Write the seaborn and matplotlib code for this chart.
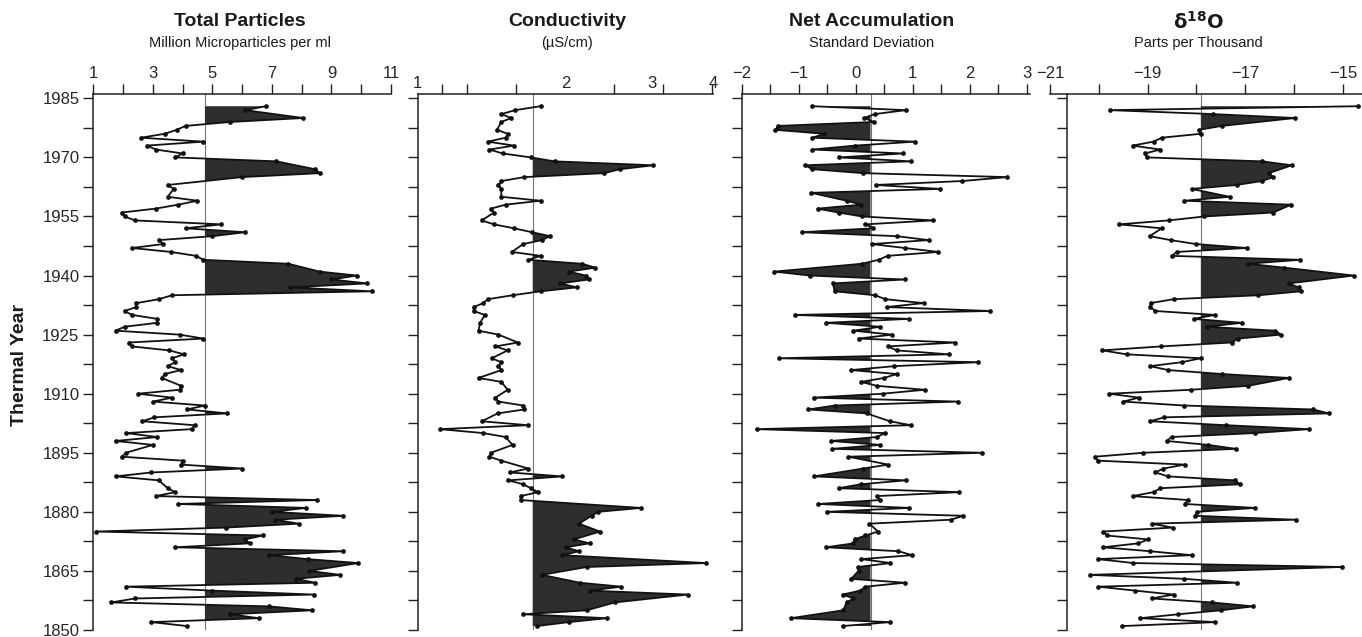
import numpy as np
import pandas as pd
import matplotlib
matplotlib.use("Agg")
import matplotlib.pyplot as plt
import seaborn as sns
from matplotlib.ticker import FixedLocator, FixedFormatter, NullFormatter

sns.set_theme(style="white")
plt.rcParams["font.family"] = ["Liberation Sans", "DejaVu Sans"]

# ---------------- data ----------------
particles_years = [1983, 1982, 1980, 1979, 1978, 1977, 1976, 1975, 1974, 1973, 1972, 1971, 1970,
                   1969, 1967, 1966, 1965, 1963, 1962, 1960, 1959, 1958, 1957, 1956, 1955, 1954,
                   1953, 1952, 1951, 1950, 1949, 1948, 1947, 1946, 1945, 1944, 1943, 1941, 1940,
                   1939, 1938, 1937, 1936, 1935, 1934, 1933, 1932, 1931, 1930, 1929, 1928, 1927,
                   1926, 1925, 1924, 1923, 1922, 1921, 1920, 1919, 1918, 1917, 1916, 1915, 1914,
                   1912, 1911, 1910, 1909, 1908, 1907, 1906, 1905, 1904, 1903, 1902, 1901, 1900,
                   1899, 1898, 1897, 1895, 1894, 1893, 1892, 1891, 1890, 1889, 1888, 1886, 1885,
                   1884, 1883, 1882, 1881, 1880, 1879, 1878, 1877, 1876, 1875, 1874, 1873, 1872,
                   1871, 1870, 1869, 1868, 1867, 1865, 1864, 1863, 1862, 1861, 1860, 1859, 1858,
                   1857, 1856, 1855, 1854, 1853, 1852, 1851]
particles_values = [6.8, 6.1, 8.05, 5.6, 4.1, 3.8, 3.4, 2.6, 4.7, 2.8, 3.1, 4.0, 3.75,
                    7.15, 8.45, 8.6, 6.0, 3.5, 3.7, 3.5, 4.5, 3.85, 3.1, 1.95, 2.05, 2.4,
                    5.3, 4.1, 6.1, 5.0, 3.2, 3.35, 2.3, 3.6, 4.45, 4.7, 7.55, 8.6, 9.85,
                    9.0, 10.2, 7.6, 10.35, 3.65, 3.2, 2.45, 2.45, 2.05, 2.3, 3.15, 3.15, 2.05,
                    1.75, 3.9, 4.7, 2.2, 2.3, 3.55, 4.05, 3.65, 3.75, 3.5, 3.95, 3.4, 3.3,
                    3.95, 3.9, 2.5, 3.65, 3.0, 4.75, 4.15, 5.5, 3.05, 2.65, 4.4, 4.3, 2.1,
                    3.15, 1.75, 3.0, 2.1, 1.95, 4.0, 3.95, 6.0, 2.95, 1.75, 3.2, 3.5, 3.75,
                    3.1, 8.5, 3.85, 8.15, 7.0, 9.4, 7.1, 7.9, 5.45, 1.1, 6.7, 6.1, 6.25,
                    3.75, 9.4, 6.9, 8.2, 9.9, 8.25, 9.3, 7.8, 8.45, 2.1, 5.0, 8.4, 2.4,
                    1.6, 6.9, 8.35, 5.6, 6.55, 2.95, 4.15]
particles_base = 4.75

conduct_years = [1983, 1982, 1981, 1980, 1979, 1977, 1976, 1975, 1974, 1973, 1972, 1971, 1970,
                 1969, 1968, 1967, 1966, 1965, 1964, 1963, 1962, 1960, 1959, 1958, 1957, 1956,
                 1954, 1953, 1952, 1951, 1950, 1949, 1948, 1946, 1945, 1944, 1943, 1942, 1941,
                 1940, 1939, 1938, 1937, 1936, 1935, 1934, 1933, 1932, 1931, 1930, 1928, 1926,
                 1925, 1923, 1922, 1921, 1919, 1918, 1917, 1916, 1914, 1913, 1911, 1909, 1908,
                 1907, 1906, 1905, 1903, 1902, 1901, 1900, 1899, 1897, 1895, 1894, 1893, 1891,
                 1890, 1889, 1888, 1887, 1886, 1885, 1884, 1883, 1881, 1880, 1879, 1877, 1875,
                 1873, 1872, 1871, 1870, 1869, 1867, 1866, 1864, 1862, 1861, 1860, 1859, 1857,
                 1855, 1854, 1853, 1852, 1851]
conduct_values = [1.78, 1.58, 1.48, 1.55, 1.48, 1.45, 1.525, 1.51, 1.39, 1.57, 1.40, 1.49, 1.70,
                  1.90, 3.02, 2.58, 2.40, 1.65, 1.48, 1.46, 1.48, 1.48, 1.78, 1.51, 1.41, 1.43,
                  1.35, 1.43, 1.57, 1.71, 1.86, 1.79, 1.64, 1.555, 1.78, 1.68, 2.16, 2.30, 2.03,
                  2.20, 2.23, 1.95, 2.11, 1.78, 1.56, 1.39, 1.36, 1.30, 1.30, 1.37, 1.34, 1.33,
                  1.46, 1.60, 1.44, 1.525, 1.415, 1.48, 1.46, 1.48, 1.33, 1.48, 1.525, 1.44, 1.46,
                  1.64, 1.65, 1.455, 1.35, 1.68, 1.11, 1.36, 1.51, 1.56, 1.41, 1.40, 1.48, 1.68,
                  1.54, 1.97, 1.53, 1.64, 1.70, 1.76, 1.62, 1.62, 2.85, 2.33, 2.26, 2.13, 2.35,
                  2.08, 2.24, 2.00, 2.13, 1.97, 3.87, 2.21, 1.79, 2.14, 2.60, 2.24, 3.55, 2.52,
                  2.21, 1.64, 2.43, 2.03, 1.75]
conduct_base = 1.715

accum_years = [1983, 1982, 1981, 1980, 1979, 1978, 1977, 1976, 1975, 1974, 1973, 1972, 1971,
               1970, 1969, 1968, 1967, 1966, 1965, 1964, 1963, 1962, 1961, 1959, 1958, 1957,
               1956, 1955, 1954, 1953, 1952, 1951, 1950, 1949, 1948, 1947, 1946, 1945, 1944,
               1943, 1941, 1940, 1939, 1938, 1936, 1935, 1934, 1933, 1932, 1931, 1930, 1929,
               1928, 1927, 1926, 1925, 1924, 1923, 1922, 1921, 1920, 1919, 1918, 1917, 1916,
               1915, 1914, 1913, 1912, 1911, 1910, 1909, 1908, 1907, 1906, 1905, 1903, 1902,
               1901, 1900, 1899, 1898, 1897, 1896, 1895, 1894, 1892, 1891, 1889, 1888, 1887,
               1886, 1885, 1884, 1883, 1882, 1881, 1880, 1879, 1878, 1877, 1875, 1874, 1873,
               1872, 1871, 1870, 1869, 1868, 1867, 1866, 1865, 1863, 1862, 1861, 1860, 1859,
               1858, 1857, 1855, 1853, 1852, 1851]
accum_values = [-0.76, 0.88, 0.33, 0.15, 0.32, -1.36, -1.41, -0.55, -0.76, 1.04, -0.01, -0.76, 0.83,
                -0.29, 0.97, -0.89, -0.76, 0.13, 2.66, 1.87, 0.35, 1.48, -0.78, -0.16, 0.10, -0.67,
                -0.30, 0.11, 1.36, 0.17, 0.31, -0.95, 0.72, 1.28, 0.28, 0.86, 1.45, 0.56, 0.40,
                0.11, -1.43, -0.80, 0.86, -0.40, -0.37, 0.34, 0.52, 1.19, 0.54, 2.36, -1.07, 0.93,
                -0.52, 0.43, -0.04, 0.64, 0.05, 1.75, 0.56, 0.72, 1.63, -1.35, 2.15, 0.68, -0.08,
                0.72, 0.50, 0.09, 0.37, 1.21, 0.47, -0.74, 1.80, -0.37, -0.83, 0.19, 0.60, 0.97,
                -1.74, 0.52, 0.37, -0.43, 0.43, -0.41, 2.22, -0.13, 0.57, 0.13, -0.73, 0.88, 0.09,
                -0.30, 1.82, 0.37, 0.43, -0.66, 0.94, -0.51, 1.89, 1.67, 0.24, 0.39, 0.17, -0.02,
                -0.04, -0.52, 0.75, 0.99, 0.10, 0.61, 0.04, 0.05, -0.08, 0.86, 0.17, 0.08, -0.23,
                -0.04, -0.16, -0.22, -1.14, 0.60, -0.23]
accum_base = 0.26

d18o_years = [1983, 1982, 1981, 1980, 1978, 1977, 1976, 1975, 1974, 1973, 1972, 1971, 1970,
              1969, 1968, 1966, 1965, 1964, 1963, 1962, 1960, 1959, 1958, 1956, 1955, 1954,
              1953, 1952, 1950, 1949, 1948, 1947, 1946, 1945, 1944, 1943, 1942, 1940, 1938,
              1937, 1936, 1935, 1934, 1933, 1932, 1931, 1930, 1929, 1928, 1927, 1926, 1925,
              1924, 1923, 1922, 1921, 1920, 1919, 1918, 1917, 1916, 1915, 1914, 1912, 1911,
              1910, 1909, 1908, 1907, 1906, 1905, 1904, 1903, 1902, 1901, 1900, 1899, 1898,
              1897, 1896, 1895, 1894, 1893, 1892, 1891, 1890, 1889, 1888, 1887, 1886, 1885,
              1884, 1883, 1882, 1881, 1880, 1879, 1878, 1877, 1876, 1875, 1874, 1873, 1872,
              1871, 1870, 1869, 1868, 1867, 1866, 1864, 1863, 1862, 1861, 1860, 1859, 1858,
              1857, 1856, 1855, 1854, 1853, 1852, 1851]
d18o_values = [-14.69, -19.77, -17.66, -15.98, -17.48, -17.95, -17.91, -18.71, -18.88, -19.31, -18.74, -19.06, -19.02,
               -16.66, -16.05, -16.52, -16.43, -16.66, -17.18, -18.10, -17.32, -18.25, -16.06, -16.43, -17.84, -18.57,
               -19.59, -18.71, -18.96, -18.53, -18.01, -16.97, -18.40, -18.51, -15.88, -16.95, -16.20, -14.78, -16.11,
               -15.91, -15.86, -16.73, -18.47, -18.94, -18.95, -18.84, -17.62, -18.06, -17.07, -17.79, -16.39, -16.27,
               -17.14, -17.28, -18.73, -19.93, -19.43, -17.91, -18.30, -18.95, -18.58, -17.48, -16.11, -16.94, -18.11,
               -19.79, -19.18, -19.50, -18.26, -15.61, -15.29, -18.66, -18.95, -17.39, -15.70, -16.81, -18.51, -18.61,
               -17.76, -17.19, -19.09, -20.08, -20.02, -18.24, -18.68, -18.84, -18.58, -17.21, -17.11, -18.74, -18.88,
               -19.31, -18.17, -18.24, -16.80, -17.99, -18.03, -15.97, -18.92, -18.49, -19.91, -19.84, -18.99, -19.19,
               -19.91, -18.95, -18.10, -20.02, -19.29, -15.01, -20.18, -18.25, -17.18, -20.01, -19.26, -18.47, -18.92,
               -17.69, -16.84, -17.50, -18.37, -19.15, -17.62, -19.52]
d18o_base = -17.91

year_ticks = [1850 + 7.5 * i for i in range(19)]
year_labels = [1985, 1970, 1955, 1940, 1925, 1910, 1895, 1880, 1865, 1850]

# ---------------- figure ----------------
W, H = 1362, 637
fig = plt.figure(figsize=(W / 100, H / 100), dpi=100)
fig.patch.set_facecolor("white")

top_px, bot_px = 94, 630
def axes_at(x0, x1):
    return fig.add_axes([x0 / W, 1 - bot_px / H, (x1 - x0) / W, (bot_px - top_px) / H])

ax1 = axes_at(93.3, 391)
ax2 = axes_at(417.7, 713.3)
ax3 = axes_at(741.7, 1029.6)
ax4 = axes_at(1050, 1362)
axes = [ax1, ax2, ax3, ax4]

def draw(ax, years, values, base, side):
    y = np.asarray(years, float)
    v = np.asarray(values, float)
    where = v > base if side == "right" else v < base
    ax.fill_betweenx(y, base, v, where=where, interpolate=True,
                     color="#2e2e2e", lw=0, zorder=2)
    ax.axvline(base, color="#777777", lw=0.8, zorder=1)
    df = pd.DataFrame({"value": v, "year": y})
    sns.lineplot(data=df, x="value", y="year", orient="y", sort=False,
                 estimator=None, ax=ax, color="#111111", lw=1.3,
                 marker="o", markersize=3.4, markeredgewidth=0, zorder=3)

draw(ax1, particles_years, particles_values, particles_base, "right")
draw(ax2, conduct_years, conduct_values, conduct_base, "right")
draw(ax3, accum_years, accum_values, accum_base, "left")
draw(ax4, d18o_years, d18o_values, d18o_base, "right")

for i, ax in enumerate(axes):
    ax.set_ylim(1850, 1986.1)
    ax.set_xlabel("")
    ax.set_ylabel("")
    for s in ["right", "bottom"]:
        ax.spines[s].set_visible(False)
    for s in ["left", "top"]:
        ax.spines[s].set_color("#222222")
        ax.spines[s].set_linewidth(1.1)
    ax.xaxis.tick_top()
    ax.yaxis.set_major_locator(FixedLocator(year_ticks))
    if i == 0:
        ax.yaxis.set_major_formatter(FixedFormatter(
            [str(int(t)) if t in year_labels else "" for t in year_ticks]))
    else:
        ax.yaxis.set_major_formatter(NullFormatter())
    ax.tick_params(axis="y", which="both", direction="out", length=7, width=1,
                   color="#222222", labelsize=12, left=True, pad=3)
    ax.tick_params(axis="x", which="both", direction="out", length=7, width=1,
                   color="#222222", labelsize=12, top=True, bottom=False, pad=2)
    ax.set_facecolor("white")

ax1.set_xlim(1, 11)
ax1.set_xticks([1, 3, 5, 7, 9, 11])
ax1.set_xticks([2, 4, 6, 8, 10], minor=True)

ax2.set_xscale("log")
ax2.set_xlim(1, 4)
ax2.xaxis.set_major_locator(FixedLocator([1, 2, 3, 4]))
ax2.xaxis.set_major_formatter(FixedFormatter(["1", "2", "3", "4"]))
ax2.xaxis.set_minor_locator(FixedLocator([1.12, 1.26, 1.585, 2.0, 2.51, 3.16, 3.98]))
ax2.xaxis.set_minor_formatter(NullFormatter())
ax2.tick_params(axis="x", which="major", length=0)

ax3.set_xlim(-2, 3.05)
ax3.set_xticks([-2, -1, 0, 1, 2, 3])
ax3.set_xticklabels(["\u22122", "\u22121", "0", "1", "2", "3"])
ax3.set_xticks([-1.5, -0.5, 0.5, 1.5, 2.5], minor=True)

ax4.set_xlim(-21, -14.61)
ax4.spines["left"].set_position(("data", -20.658))
ax4.set_xticks([-21, -19, -17, -15])
ax4.set_xticklabels(["\u221221", "\u221219", "\u221217", "\u221215"])
ax4.set_xticks([-20, -18, -16], minor=True)

# ---------------- titles ----------------
def title(xc, main, sub):
    fig.text(xc / W, 1 - 22 / H, main, ha="center", va="center",
             fontsize=14, fontweight="bold", color="#1a1a1a")
    fig.text(xc / W, 1 - 43 / H, sub, ha="center", va="center",
             fontsize=10.5, color="#1a1a1a")

title(240, "Total Particles", "Million Microparticles per ml")
title(567, "Conductivity", "(\u00b5S/cm)")
title(872, "Net Accumulation", "Standard Deviation")
title(1198, r"$\mathbf{\delta}^{\mathbf{18}}\mathbf{O}$", "Parts per Thousand")

fig.text(20 / W, 1 - 365 / H, "Thermal Year", rotation=90, ha="center", va="center",
         fontsize=14, fontweight="bold", color="#1a1a1a")

fig.savefig("out.png", dpi=100, facecolor="white")
